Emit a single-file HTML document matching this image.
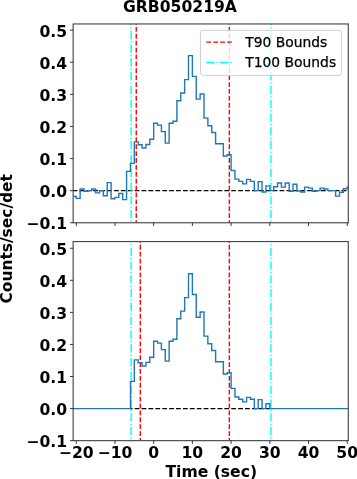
<!DOCTYPE html>
<html><head><meta charset="utf-8"><title>GRB050219A</title>
<style>
html,body{margin:0;padding:0;background:#fff;}
body{width:357px;height:479px;overflow:hidden;}
svg{display:block;}
text{font-family:"DejaVu Sans","Liberation Sans",sans-serif;fill:#000;}
.b{font-weight:bold;}
.tk{font-size:15.6px;font-weight:bold;}
.lab{font-size:15.6px;font-weight:bold;}
.leg{font-size:13.85px;stroke:#000;stroke-width:0.25px;}
</style></head><body>
<svg width="357" height="479" viewBox="0 0 357 479">
<rect width="357" height="479" fill="#fff"/>

<clipPath id="c0"><rect x="73.15" y="23.95" width="275.15" height="198.8"/></clipPath>
<g clip-path="url(#c0)">
<path d="M73.15,190.65 H348.3" stroke="#000" stroke-width="1.35" stroke-dasharray="4.8 2.1" stroke-dashoffset="0.6" fill="none"/>
<path d="M136.25,222.75 V23.95" stroke="#ff0000" stroke-width="1.4" stroke-dasharray="4.8 2.1" stroke-dashoffset="2.2" fill="none"/>
<path d="M229.35,222.75 V23.95" stroke="#ff0000" stroke-width="1.4" stroke-dasharray="4.8 2.1" stroke-dashoffset="2.2" fill="none"/>
<path d="M131.14,222.75 V23.95" stroke="#00ffff" stroke-width="1.45" stroke-dasharray="8.3 2.1 1.3 2.1" stroke-dashoffset="9.4" fill="none"/>
<path d="M270.96,222.75 V23.95" stroke="#00ffff" stroke-width="1.45" stroke-dasharray="8.3 2.1 1.3 2.1" stroke-dashoffset="9.4" fill="none"/>
<path d="M72.38,196.43 L76.25,196.43 L76.25,198.35 L80.12,198.35 L80.12,189.05 L83.99,189.05 L83.99,191.29 L87.86,191.29 L87.86,190.65 L91.73,190.65 L91.73,189.05 L95.61,189.05 L95.61,192.90 L99.48,192.90 L99.48,190.65 L103.35,190.65 L103.35,195.79 L107.22,195.79 L107.22,182.62 L111.09,182.62 L111.09,198.68 L114.96,198.68 L114.96,197.39 L118.83,197.39 L118.83,193.54 L122.70,193.54 L122.70,199.64 L126.57,199.64 L126.57,171.39 L130.44,171.39 L130.44,163.36 L134.31,163.36 L134.31,141.86 L138.19,141.86 L138.19,144.75 L142.06,144.75 L142.06,147.96 L145.93,147.96 L145.93,144.43 L149.80,144.43 L149.80,139.29 L153.67,139.29 L153.67,123.24 L157.54,123.24 L157.54,125.17 L161.41,125.17 L161.41,131.59 L165.28,131.59 L165.28,143.14 L169.15,143.14 L169.15,123.24 L173.03,123.24 L173.03,121.31 L176.90,121.31 L176.90,100.77 L180.77,100.77 L180.77,93.07 L184.64,93.07 L184.64,79.58 L188.51,79.58 L188.51,55.67 L192.38,55.67 L192.38,76.37 L196.25,76.37 L196.25,99.17 L200.12,99.17 L200.12,94.03 L203.99,94.03 L203.99,118.10 L207.86,118.10 L207.86,125.81 L211.74,125.81 L211.74,132.55 L215.61,132.55 L215.61,143.78 L219.48,143.78 L219.48,143.78 L223.35,143.78 L223.35,155.98 L227.22,155.98 L227.22,154.70 L231.09,154.70 L231.09,170.43 L234.96,170.43 L234.96,179.09 L238.83,179.09 L238.83,181.34 L242.70,181.34 L242.70,183.91 L246.57,183.91 L246.57,179.42 L250.44,179.42 L250.44,181.34 L254.32,181.34 L254.32,190.65 L258.19,190.65 L258.19,181.66 L262.06,181.66 L262.06,191.93 L265.93,191.93 L265.93,185.84 L269.80,185.84 L269.80,190.65 L273.67,190.65 L273.67,186.80 L277.54,186.80 L277.54,182.95 L281.41,182.95 L281.41,187.12 L285.28,187.12 L285.28,182.95 L289.15,182.95 L289.15,191.29 L293.03,191.29 L293.03,184.23 L296.90,184.23 L296.90,190.97 L300.77,190.97 L300.77,191.93 L304.64,191.93 L304.64,187.12 L308.51,187.12 L308.51,188.08 L312.38,188.08 L312.38,191.29 L316.25,191.29 L316.25,190.65 L320.12,190.65 L320.12,188.08 L323.99,188.08 L323.99,189.05 L327.87,189.05 L327.87,190.65 L331.74,190.65 L331.74,190.65 L335.61,190.65 L335.61,196.11 L339.48,196.11 L339.48,192.25 L343.35,192.25 L343.35,188.72 L347.22,188.72 L347.22,187.12 L351.09,187.12" stroke="#1f77b4" stroke-width="1.4" fill="none" stroke-linejoin="miter"/>
</g>
<rect x="200.5" y="30.3" width="141.1" height="45.1" rx="2.8" ry="2.8" fill="#fff" fill-opacity="0.8" stroke="#d0d0d0" stroke-width="1"/>
<path d="M206.3,42.1 H234" stroke="#ff0000" stroke-width="1.45" stroke-dasharray="4.8 2.1" fill="none"/>
<path d="M206.3,62.5 H234" stroke="#00ffff" stroke-width="1.45" stroke-dasharray="8.3 2.1 1.3 2.1" fill="none"/>
<text class="leg" x="245.3" y="46.5">T90 Bounds</text>
<text class="leg" x="245.3" y="66.9">T100 Bounds</text>
<rect x="73.15" y="23.95" width="275.15" height="198.8" fill="none" stroke="#484848" stroke-width="1.15"/>
<path d="M69.95,30.15 H73.15" stroke="#222" stroke-width="0.9"/>
<text class="tk" x="67.05" y="36.65" text-anchor="end">0.5</text>
<path d="M69.95,62.25 H73.15" stroke="#222" stroke-width="0.9"/>
<text class="tk" x="67.05" y="68.75" text-anchor="end">0.4</text>
<path d="M69.95,94.35 H73.15" stroke="#222" stroke-width="0.9"/>
<text class="tk" x="67.05" y="100.85" text-anchor="end">0.3</text>
<path d="M69.95,126.45 H73.15" stroke="#222" stroke-width="0.9"/>
<text class="tk" x="67.05" y="132.95" text-anchor="end">0.2</text>
<path d="M69.95,158.55 H73.15" stroke="#222" stroke-width="0.9"/>
<text class="tk" x="67.05" y="165.05" text-anchor="end">0.1</text>
<path d="M69.95,190.65 H73.15" stroke="#222" stroke-width="0.9"/>
<text class="tk" x="67.05" y="197.15" text-anchor="end">0.0</text>
<path d="M69.95,222.75 H73.15" stroke="#222" stroke-width="0.9"/>
<text class="tk" x="67.05" y="229.25" text-anchor="end">−0.1</text>
<path d="M76.25,222.75 V225.95" stroke="#222" stroke-width="0.9"/>
<path d="M114.96,222.75 V225.95" stroke="#222" stroke-width="0.9"/>
<path d="M153.67,222.75 V225.95" stroke="#222" stroke-width="0.9"/>
<path d="M192.38,222.75 V225.95" stroke="#222" stroke-width="0.9"/>
<path d="M231.09,222.75 V225.95" stroke="#222" stroke-width="0.9"/>
<path d="M269.80,222.75 V225.95" stroke="#222" stroke-width="0.9"/>
<path d="M308.51,222.75 V225.95" stroke="#222" stroke-width="0.9"/>
<path d="M347.22,222.75 V225.95" stroke="#222" stroke-width="0.9"/>
<clipPath id="c1"><rect x="73.15" y="241.55" width="275.15" height="199.09999999999997"/></clipPath>
<g clip-path="url(#c1)">
<path d="M130.5,408.58 H269.80" stroke="#000" stroke-width="1.3" stroke-dasharray="4.8 2.1" stroke-dashoffset="2.75" fill="none"/>
<path d="M140.32,440.65 V241.55" stroke="#ff0000" stroke-width="1.4" stroke-dasharray="4.8 2.1" stroke-dashoffset="2.2" fill="none"/>
<path d="M229.35,440.65 V241.55" stroke="#ff0000" stroke-width="1.4" stroke-dasharray="4.8 2.1" stroke-dashoffset="2.2" fill="none"/>
<path d="M131.14,440.65 V241.55" stroke="#00ffff" stroke-width="1.45" stroke-dasharray="8.3 2.1 1.3 2.1" stroke-dashoffset="8.5" fill="none"/>
<path d="M270.96,440.65 V241.55" stroke="#00ffff" stroke-width="1.45" stroke-dasharray="8.3 2.1 1.3 2.1" stroke-dashoffset="8.5" fill="none"/>
<path d="M72.38,408.58 L76.25,408.58 L76.25,408.58 L80.12,408.58 L80.12,408.58 L83.99,408.58 L83.99,408.58 L87.86,408.58 L87.86,408.58 L91.73,408.58 L91.73,408.58 L95.61,408.58 L95.61,408.58 L99.48,408.58 L99.48,408.58 L103.35,408.58 L103.35,408.58 L107.22,408.58 L107.22,408.58 L111.09,408.58 L111.09,408.58 L114.96,408.58 L114.96,408.58 L118.83,408.58 L118.83,408.58 L122.70,408.58 L122.70,408.58 L126.57,408.58 L126.57,408.58 L130.50,408.58 L130.50,381.33 L134.31,381.33 L134.31,359.84 L138.19,359.84 L138.19,362.73 L142.06,362.73 L142.06,365.93 L145.93,365.93 L145.93,362.41 L149.80,362.41 L149.80,357.28 L153.67,357.28 L153.67,341.24 L157.54,341.24 L157.54,343.17 L161.41,343.17 L161.41,349.58 L165.28,349.58 L165.28,361.12 L169.15,361.12 L169.15,341.24 L173.03,341.24 L173.03,339.32 L176.90,339.32 L176.90,318.80 L180.77,318.80 L180.77,311.10 L184.64,311.10 L184.64,297.63 L188.51,297.63 L188.51,273.74 L192.38,273.74 L192.38,294.43 L196.25,294.43 L196.25,317.19 L200.12,317.19 L200.12,312.06 L203.99,312.06 L203.99,336.11 L207.86,336.11 L207.86,343.81 L211.74,343.81 L211.74,350.54 L215.61,350.54 L215.61,361.77 L219.48,361.77 L219.48,361.77 L223.35,361.77 L223.35,373.95 L227.22,373.95 L227.22,372.67 L231.09,372.67 L231.09,388.38 L234.96,388.38 L234.96,397.04 L238.83,397.04 L238.83,399.28 L242.70,399.28 L242.70,401.85 L246.57,401.85 L246.57,397.36 L250.44,397.36 L250.44,399.28 L254.32,399.28 L254.32,408.58 L258.19,408.58 L258.19,399.60 L262.06,399.60 L262.06,408.58 L265.93,408.58 L265.93,403.77 L269.80,403.77 L269.80,408.58 L273.67,408.58 L273.67,408.58 L277.54,408.58 L277.54,408.58 L281.41,408.58 L281.41,408.58 L285.28,408.58 L285.28,408.58 L289.15,408.58 L289.15,408.58 L293.03,408.58 L293.03,408.58 L296.90,408.58 L296.90,408.58 L300.77,408.58 L300.77,408.58 L304.64,408.58 L304.64,408.58 L308.51,408.58 L308.51,408.58 L312.38,408.58 L312.38,408.58 L316.25,408.58 L316.25,408.58 L320.12,408.58 L320.12,408.58 L323.99,408.58 L323.99,408.58 L327.87,408.58 L327.87,408.58 L331.74,408.58 L331.74,408.58 L335.61,408.58 L335.61,408.58 L339.48,408.58 L339.48,408.58 L343.35,408.58 L343.35,408.58 L347.22,408.58 L347.22,408.58 L351.09,408.58" stroke="#1f77b4" stroke-width="1.4" fill="none" stroke-linejoin="miter"/>
</g>
<rect x="73.15" y="241.55" width="275.15" height="199.09999999999997" fill="none" stroke="#484848" stroke-width="1.15"/>
<path d="M69.95,248.25 H73.15" stroke="#222" stroke-width="0.9"/>
<text class="tk" x="67.05" y="254.75" text-anchor="end">0.5</text>
<path d="M69.95,280.32 H73.15" stroke="#222" stroke-width="0.9"/>
<text class="tk" x="67.05" y="286.82" text-anchor="end">0.4</text>
<path d="M69.95,312.38 H73.15" stroke="#222" stroke-width="0.9"/>
<text class="tk" x="67.05" y="318.88" text-anchor="end">0.3</text>
<path d="M69.95,344.45 H73.15" stroke="#222" stroke-width="0.9"/>
<text class="tk" x="67.05" y="350.95" text-anchor="end">0.2</text>
<path d="M69.95,376.52 H73.15" stroke="#222" stroke-width="0.9"/>
<text class="tk" x="67.05" y="383.02" text-anchor="end">0.1</text>
<path d="M69.95,408.58 H73.15" stroke="#222" stroke-width="0.9"/>
<text class="tk" x="67.05" y="415.08" text-anchor="end">0.0</text>
<path d="M69.95,440.65 H73.15" stroke="#222" stroke-width="0.9"/>
<text class="tk" x="67.05" y="447.15" text-anchor="end">−0.1</text>
<path d="M76.25,440.65 V443.84999999999997" stroke="#222" stroke-width="0.9"/>
<text class="tk" x="76.25" y="458.30" text-anchor="middle">−20</text>
<path d="M114.96,440.65 V443.84999999999997" stroke="#222" stroke-width="0.9"/>
<text class="tk" x="114.96" y="458.30" text-anchor="middle">−10</text>
<path d="M153.67,440.65 V443.84999999999997" stroke="#222" stroke-width="0.9"/>
<text class="tk" x="153.67" y="458.30" text-anchor="middle">0</text>
<path d="M192.38,440.65 V443.84999999999997" stroke="#222" stroke-width="0.9"/>
<text class="tk" x="192.38" y="458.30" text-anchor="middle">10</text>
<path d="M231.09,440.65 V443.84999999999997" stroke="#222" stroke-width="0.9"/>
<text class="tk" x="231.09" y="458.30" text-anchor="middle">20</text>
<path d="M269.80,440.65 V443.84999999999997" stroke="#222" stroke-width="0.9"/>
<text class="tk" x="269.80" y="458.30" text-anchor="middle">30</text>
<path d="M308.51,440.65 V443.84999999999997" stroke="#222" stroke-width="0.9"/>
<text class="tk" x="308.51" y="458.30" text-anchor="middle">40</text>
<path d="M347.22,440.65 V443.84999999999997" stroke="#222" stroke-width="0.9"/>
<text class="tk" x="347.22" y="458.30" text-anchor="middle">50</text>
<text class="lab" x="180.0" y="12.2" text-anchor="middle">GRB050219A</text>
<text class="lab" x="211.25" y="477" text-anchor="middle">Time (sec)</text>
<text class="lab" style="font-size:15.45px" transform="translate(12.0,238.8) rotate(-90)" text-anchor="middle">Counts/sec/det</text>
</svg></body></html>
